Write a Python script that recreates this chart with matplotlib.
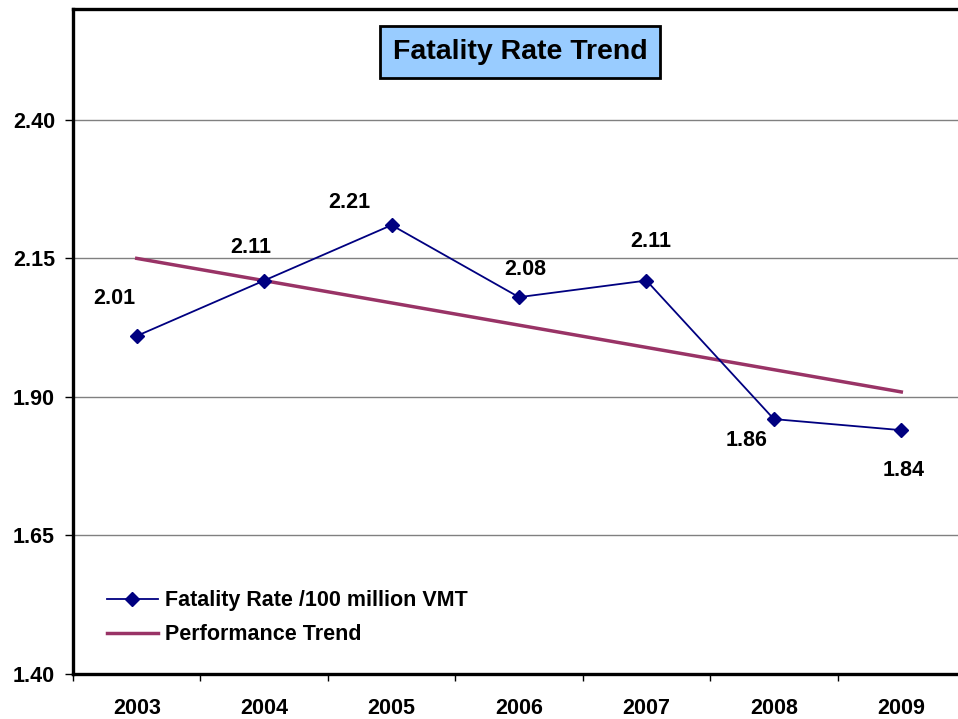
import numpy as np
import matplotlib
matplotlib.use("Agg")
import matplotlib.pyplot as plt

years = ["2003", "2004", "2005", "2006", "2007", "2008", "2009"]
rate = [2.01, 2.11, 2.21, 2.08, 2.11, 1.86, 1.84]
trend_start, trend_end = 2.15, 1.909
y_ticks = [1.40, 1.65, 1.90, 2.15, 2.40]
# label offsets in pixels (dx, dy) relative to each point
label_off = [(-22, 37), (-13, 33), (-42, 23), (6, 28), (4, 39), (-27, -21), (2, -40)]

plt.rcParams["font.family"] = ["Liberation Sans", "DejaVu Sans"]
plt.rcParams["font.weight"] = "bold"

fig = plt.figure(figsize=(9.58, 7.19), dpi=100)
ax = fig.add_axes([73 / 958, 1 - 674 / 719, 892 / 958, 665 / 719])

x = np.arange(len(years))
trend = np.linspace(trend_start, trend_end, len(years))

ax.plot(x, rate, color="#000080", lw=1.3, marker="D", ms=7.5,
        label="Fatality Rate /100 million VMT", zorder=3)
ax.plot(x, trend, color="#993366", lw=2.5, label="Performance Trend", zorder=2)

for xi, v, (dx, dy) in zip(x, rate, label_off):
    ax.annotate(f"{v:.2f}", (xi, v), xytext=(dx, dy), textcoords="offset pixels",
                ha="center", va="center", fontsize=15.5, fontweight="bold")

ax.set_xlim(-0.5, len(years) - 0.5)
ax.set_ylim(1.40, 2.60)
ax.set_yticks(y_ticks)
ax.set_yticklabels([f"{t:.2f}" for t in y_ticks], fontsize=15.5, fontweight="bold")
for t in y_ticks[1:]:
    ax.axhline(t, color="#808080", lw=1, zorder=1)

ax.set_xticks(np.arange(len(years) + 1) - 0.5)
ax.set_xticklabels([])
ax.set_xticks(x, minor=True)
ax.set_xticklabels(years, minor=True, fontsize=15.5, fontweight="bold")
ax.tick_params(axis="x", which="major", length=5, width=1, direction="out")
ax.tick_params(axis="x", which="minor", length=0, pad=17)
ax.tick_params(axis="y", length=6, width=1, pad=7)

for s in ["left", "bottom", "top"]:
    ax.spines[s].set_linewidth(2.4)
ax.spines["right"].set_visible(False)

ax.text(520, 719 - 52, "Fatality Rate Trend", transform=None, fontsize=20.5,
        fontweight="bold", ha="center", va="center",
        bbox=dict(boxstyle="square,pad=0.45", fc="#99CCFF", ec="black", lw=2))

leg = ax.legend(loc="lower left", bbox_to_anchor=(0.016, 0.014), frameon=False,
                prop={"size": 15.5, "weight": "bold"}, handlelength=2.4,
                handletextpad=0.3, labelspacing=0.6)

fig.savefig("out.png", dpi=100)
